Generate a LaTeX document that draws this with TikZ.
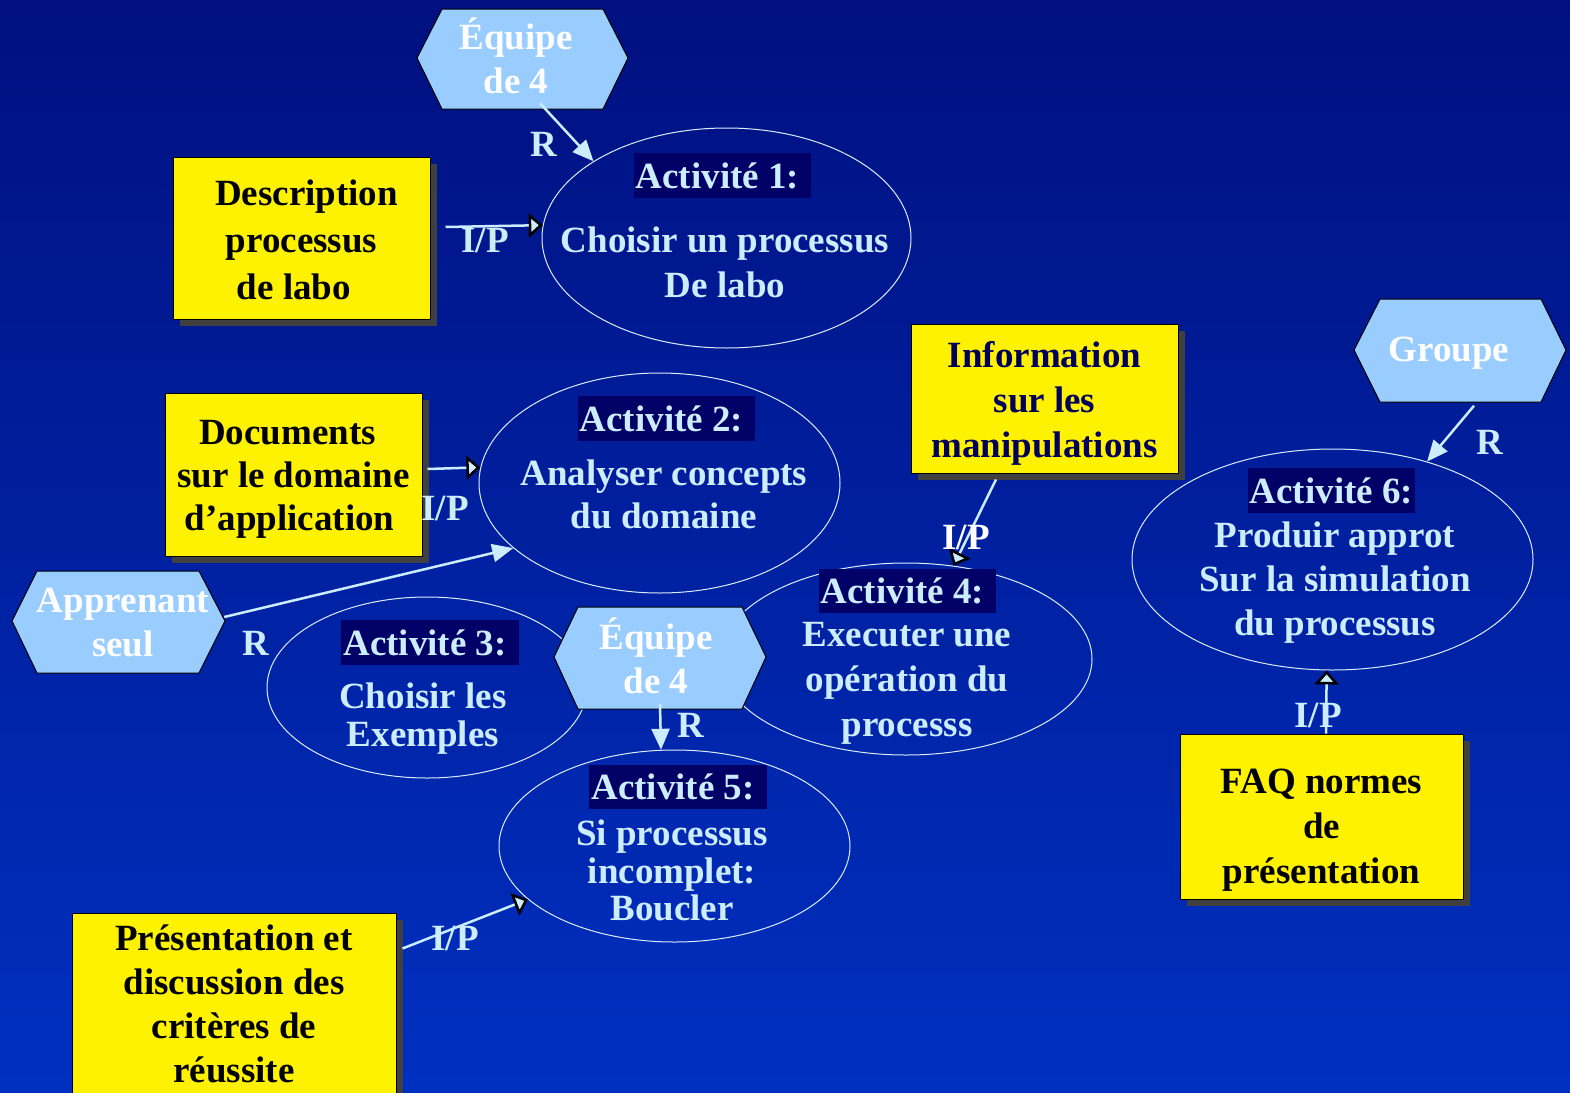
\documentclass[tikz,border=0pt]{standalone}
\usepackage{fontspec}
\setmainfont{Liberation Serif}
\usetikzlibrary{arrows.meta,shapes.geometric,shadows}
\definecolor{bgtop}{RGB}{0,16,128}
\definecolor{bgbot}{RGB}{0,48,192}
\definecolor{hexblue}{RGB}{153,204,255}
\definecolor{ltblue}{RGB}{204,236,255}
\definecolor{ttl}{RGB}{0,0,102}
\definecolor{infonavy}{RGB}{0,0,90}
\definecolor{shadowgray}{RGB}{64,64,64}
\definecolor{ellline}{RGB}{220,236,255}
\newcommand{\pushdown}[1]{\rule{0pt}{#1}}
\begin{document}
\begin{tikzpicture}[x=1pt,y=-1pt,
  ls/.style={font=\bfseries\fontsize{37}{#1}\selectfont},
  txt/.style={ls=44, align=center, inner sep=0pt},
  act/.style={ellipse, draw=ellline, line width=1pt, inner sep=0pt},
  ttlbox/.style={txt, fill=ttl, text=ltblue, minimum height=45pt, inner xsep=2pt},
  body/.style={txt, text=ltblue},
  ybox/.style={txt, fill=yellow, draw=black, line width=1pt,
    general shadow={fill=shadowgray, draw=none, shadow xshift=7pt, shadow yshift=-7pt}},
  hexpath/.style={fill=hexblue, draw=black, line width=1pt},
  hextxt/.style={txt, text=white},
  lbl/.style={txt, text=ltblue},
  conn/.style={draw=ltblue, line width=2.5pt},
  rarrow/.style={conn, -{Triangle[length=21pt,width=18pt]}},
  iparrow/.style={conn, -{Triangle[length=14pt,width=24pt,fill=ltblue,color=black,line width=2.5pt]}},
]
\useasboundingbox (0,0) rectangle (1570,1092);
\shade[top color=bgtop, bottom color=bgbot] (0,0) rectangle (1570,1092);

% activity ellipses
\node[act, minimum width=369pt, minimum height=220pt] (a1) at (726.5,238) {};
\node[act, minimum width=361pt, minimum height=220pt] (a2) at (659.5,483) {};
\node[act, minimum width=320pt, minimum height=181pt] (a3) at (427,687.5) {};
\node[act, minimum width=372pt, minimum height=192pt] (a4) at (906,659) {};
\node[act, minimum width=351pt, minimum height=192pt] (a5) at (674.5,846) {};
\node[act, minimum width=401pt, minimum height=221pt] (a6) at (1332.5,559.5) {};

% hexagons
\path[hexpath] (417,58) -- (442,9) -- (603,9) -- (628,58) -- (603,109) -- (442,109) -- cycle;
\path[hexpath] (1354,350) -- (1380,299) -- (1541,299) -- (1566,350) -- (1541,402) -- (1380,402) -- cycle;
\path[hexpath] (12,621) -- (37,571) -- (199,571) -- (225,621) -- (199,673) -- (37,673) -- cycle;
\path[hexpath] (554,657) -- (578,607) -- (742,607) -- (766,657) -- (742,709) -- (578,709) -- cycle;
\node[hextxt, minimum width=211pt, minimum height=100pt] (h1) at (516,56) {Équipe\\de 4};
\node[hextxt, minimum width=212pt, minimum height=101pt] (h2) at (1449,353) {Groupe};
\node[hextxt, minimum width=213pt, minimum height=102pt] (h3) at (123,623) {Apprenant\\seul};
\node[hextxt, minimum width=212pt, minimum height=102pt] (h4) at (656,656) {Équipe\\de 4};

% yellow boxes
\node[ybox, ls=47, minimum width=257pt, minimum height=162pt] (desc) at (301.5,238) {\pushdown{30pt}\hspace*{10pt}Description\\processus\hspace*{10pt}\\de labo\hspace*{15pt}};
\node[ybox, ls=43, minimum width=257pt, minimum height=163pt] (doc) at (293.5,474.5) {\pushdown{34pt}Documents\hspace*{12pt}\\sur le domaine\\d’application\hspace*{8pt}};
\node[ybox, ls=45, text=infonavy, minimum width=267pt, minimum height=149pt] (info) at (1044.5,398.5) {\pushdown{36pt}Information\\sur les\\manipulations};
\node[ybox, ls=45, minimum width=283pt, minimum height=165pt] (faq) at (1321.5,816.5) {\pushdown{52pt}FAQ normes\\de\\présentation};
\node[ybox, ls=44, minimum width=324pt, minimum height=181pt] (pres) at (234,1003.5) {Présentation et\\discussion des\\critères de\\réussite};

% activity titles
\node[ttlbox, minimum width=175pt] (t1) at (722.5,175.5) {Activité 1:\hspace{10pt}};
\node[ttlbox, minimum width=175pt] (t2) at (666.5,418.5) {Activité 2:\hspace{10pt}};
\node[ttlbox, minimum width=174pt] (t3) at (430,642.5) {Activité 3:\hspace{10pt}};
\node[ttlbox, minimum width=175pt, minimum height=44pt] (t4) at (907.5,591) {Activité 4:\hspace{10pt}};
\node[ttlbox, minimum width=174pt, minimum height=44pt] (t5) at (678,787) {Activité 5:\hspace{10pt}};
\node[ttlbox, minimum width=167pt] (t6) at (1331.5,490.5) {Activité 6:};

% activity bodies
\node[body, ls=45] (b1) at (725,262.5) {Choisir un processus\\De labo};
\node[body, ls=43] (b2) at (664,494) {Analyser concepts\\du domaine};
\node[body, ls=38] (b3) at (423,719) {Choisir les\\Exemples};
\node[body, ls=45] (b4) at (907,683) {Executer une\\opération du\\processs};
\node[body, ls=37.5] (b5) at (672,870.5) {Si processus\\incomplet:\\Boucler};
\node[body, ls=44] (b6) at (1335,583) {Produir approt\\Sur la simulation\\du processus};

% connectors
\draw[rarrow] ([xshift=24pt,yshift=3pt]h1.south) -- (a1.150);
\draw[iparrow] ([xshift=15pt,yshift=11pt]desc.east) -- (a1.176);
\draw[iparrow] ([xshift=5pt,yshift=5.5pt]doc.east) -- (a2.175);
\draw[rarrow] ([xshift=-5.5pt,yshift=6pt]h3.east) -- (a2.204);
\draw[rarrow] ([xshift=4pt,yshift=3pt]h4.south) -- (a5.98.6);
\draw[iparrow] ([xshift=-48.5pt,yshift=-6pt]info.south) -- (a4.63);
\draw[rarrow] ([xshift=25pt,yshift=-2pt]h2.south) -- (a6.46);
\draw[iparrow] ([xshift=4.5pt]faq.north) -- (a6.267);
\draw[iparrow] ([xshift=6pt,yshift=-36pt]pres.north east) -- (a5.200);

% labels
\node[lbl] (lr1) at (544,144) {R};
\node[lbl] (lip1) at (485,240) {I/P};
\node[lbl] (lip2) at (445,508) {I/P};
\node[lbl] (lr3) at (256,643) {R};
\node[lbl] (lr4) at (691,725) {R};
\node[lbl, text=white] (lip4) at (966,537) {I/P};
\node[lbl] (lr6) at (1490,442) {R};
\node[lbl] (lip6) at (1318,715) {I/P};
\node[lbl] (lip5) at (455,938) {I/P};
\end{tikzpicture}
\end{document}
